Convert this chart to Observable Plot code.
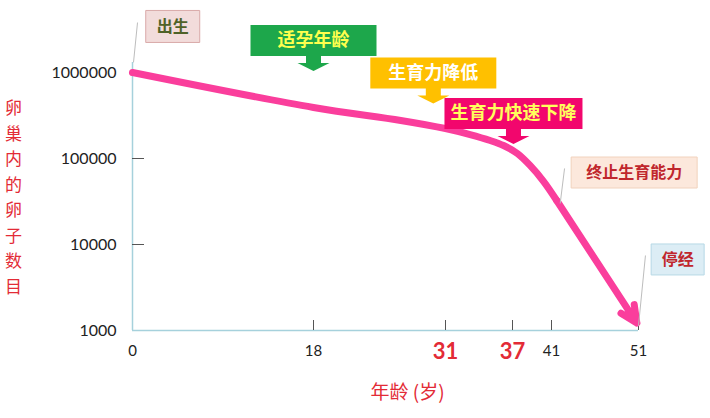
<!DOCTYPE html>
<html><head><meta charset="utf-8">
<script src="https://cdn.jsdelivr.net/npm/d3@7"></script>
<script src="https://cdn.jsdelivr.net/npm/@observablehq/plot@0.6"></script>
<style>html,body{margin:0;padding:0;background:#fff;}</style>
</head><body><div id="chart"></div>
<script>
// ---- data ----
const curveAge  = [0, 18, 26.6, 31, 33.2, 35.0, 36.2, 37.5, 38.8, 40.2, 41.6];
const curveEggs = [1000000, 392000, 277000, 223000, 190000, 162000, 141600, 114300, 83000, 54000, 32500];
const endAge  = [41.6, 51];
const endEggs = [32500, 1140];

const xTicks = [0, 18, 41, 51];
const xKeyTicks = [31, 37];
const xTickMarks = [18, 31, 37, 41, 51];
const yTicks = [1000, 10000, 100000, 1000000];
const yTickMarks = [10000, 100000];

const yTitle = "卵巢内的卵子数目";
const xTitle = "年龄 (岁)";

const noteText = ["出生", "适孕年龄", "生育力降低", "生育力快速下降", "终止生育能力", "停经"];
const noteAge  = [4, 18, 29.8, 37.1, 50.5, 55.5];
const noteEggs = [3430000, 2360000, 987000, 333000, 68700, 6700];

const leaderAge1  = [0.5, 42.5, 51.8];
const leaderEggs1 = [3810000, 76600, 7450];
const leaderAge2  = [0.1, 42.0, 51];
const leaderEggs2 = [1310000, 30000, 1140];

// ---- styles ----
const red = "#e32b36";
const pink = "#fa3e9c";
const axisColor = "#a6d1dc";
const noteStyle = [
  {w: 54,  h: 32, fill: "#f2dcdb", stroke: "#d9aaa9", color: "#4f6228", size: 16, arrow: false},
  {w: 126, h: 31, fill: "#1da74b", stroke: "none",    color: "#ffff4d", size: 18, arrow: true},
  {w: 126, h: 31, fill: "#ffc000", stroke: "none",    color: "#ffffff", size: 18, arrow: true},
  {w: 138, h: 31, fill: "#f2066d", stroke: "none",    color: "#ffff5c", size: 18, arrow: true},
  {w: 126, h: 31, fill: "#fce8dc", stroke: "#f1d2bd", color: "#c0272d", size: 16, arrow: false},
  {w: 53,  h: 31, fill: "#dcedf5", stroke: "#b7d9e6", color: "#c0272d", size: 16, arrow: false}
];

function boxSymbol(w, h, arrow) {
  return {draw(ctx) {
    const hw = w / 2, hh = h / 2;
    ctx.moveTo(-hw, -hh); ctx.lineTo(hw, -hh); ctx.lineTo(hw, hh);
    if (arrow) {
      ctx.lineTo(7.5, hh); ctx.lineTo(7.5, hh + 7); ctx.lineTo(16, hh + 7);
      ctx.lineTo(0, hh + 15);
      ctx.lineTo(-16, hh + 7); ctx.lineTo(-7.5, hh + 7); ctx.lineTo(-7.5, hh);
    }
    ctx.lineTo(-hw, hh); ctx.closePath();
  }};
}

const curve = curveAge.map((a, i) => ({age: a, eggs: curveEggs[i]}));
const tail = [{a1: endAge[0], e1: endEggs[0], a2: endAge[1], e2: endEggs[1]}];
const leaders = leaderAge1.map((a, i) => ({a1: a, e1: leaderEggs1[i], a2: leaderAge2[i], e2: leaderEggs2[i]}));
const notes = noteText.map((t, i) => ({text: t, age: noteAge[i], eggs: noteEggs[i], ...noteStyle[i]}));

const cjk = "'Noto Sans CJK SC', 'Noto Sans', sans-serif";
const num = "Lato, 'Open Sans', sans-serif";

const marks = [
  Plot.ruleX([0], {stroke: axisColor, strokeWidth: 1.5, insetTop: -10}),
  Plot.ruleY([1000], {stroke: axisColor, strokeWidth: 1.5}),
  Plot.ruleX(xTickMarks, {stroke: "#555", strokeWidth: 1, insetTop: 248}),
  Plot.ruleY(yTickMarks, {stroke: "#555", strokeWidth: 1, insetRight: 494}),
  Plot.axisY({ticks: yTicks, tickSize: 0, tickPadding: 16, tickFormat: d => String(d),
    fontSize: 16, fontFamily: num, fill: "#222", label: null}),
  Plot.axisX({ticks: xTicks, tickSize: 0, tickPadding: 15, tickFormat: d => String(d),
    fontSize: 15, fontFamily: num, fill: "#222", label: null}),
  Plot.axisX({ticks: xKeyTicks, tickSize: 0, tickPadding: 13, tickFormat: d => String(d),
    fontSize: 22, fontWeight: "bold", fontFamily: num, fill: red, label: null}),
  Plot.line(curve, {x: "age", y: "eggs", stroke: pink, strokeWidth: 7, curve: "catmull-rom",
    strokeLinecap: "round", strokeLinejoin: "round"}),
  Plot.arrow(tail, {x1: "a1", y1: "e1", x2: "a2", y2: "e2", stroke: pink, strokeWidth: 7,
    headLength: 4, headAngle: 50, insetEnd: 3}),
  Plot.link(leaders, {x1: "a1", y1: "e1", x2: "a2", y2: "e2", stroke: "#bdbdbd", strokeWidth: 1}),
  Plot.text([yTitle], {frameAnchor: "left", textAnchor: "middle", lineAnchor: "middle",
    dx: -119, dy: -6, text: d => d.split("").join("\n"),
    lineHeight: 1.5, fontSize: 17, fill: red, fontFamily: cjk}),
  Plot.text([xTitle], {frameAnchor: "bottom", textAnchor: "middle", lineAnchor: "middle",
    dx: 22, dy: 62, text: d => d, fontSize: 19, fill: red, fontFamily: cjk})
];
for (const n of notes) {
  marks.push(Plot.dot([n], {x: "age", y: "eggs", symbol: boxSymbol(n.w, n.h, n.arrow),
    fill: n.fill, stroke: n.stroke, strokeWidth: 1}));
  marks.push(Plot.text([n], {x: "age", y: "eggs", text: "text", fill: n.color,
    fontSize: n.size, fontWeight: "bold", fontFamily: cjk}));
}

const chart = Plot.plot({
  width: 710, height: 418,
  marginLeft: 132, marginRight: 72, marginTop: 72, marginBottom: 88,
  x: {type: "linear", domain: [0, 18, 31, 37, 41, 51], range: [132, 313, 445, 512, 551, 638]},
  y: {type: "log", domain: [1000, 1000000]},
  style: {fontFamily: cjk, background: "#fff"},
  marks
});
document.getElementById("chart").appendChild(chart);
</script>
</body></html>
